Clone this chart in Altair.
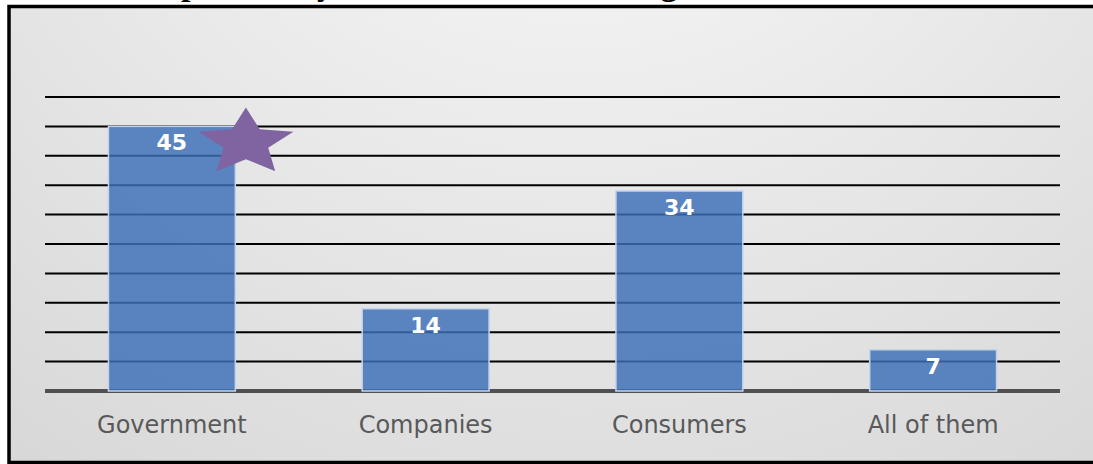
import math
import altair as alt
import pandas as pd

# ---- data ----
categories = ["Government", "Companies", "Consumers", "All of them"]
values = [45, 14, 34, 7]
grid_values = [5, 10, 15, 20, 25, 30, 35, 40, 45, 50]
baseline_values = [0]
star_category = ["Government"]
star_value = [42.8]
title_text = ["Responsibility for Environmental Degradation"]

bars_df = pd.DataFrame({"cat": categories, "val": values})
grid_df = pd.DataFrame({"g": grid_values})
base_df = pd.DataFrame({"g": baseline_values})
star_df = pd.DataFrame({"cat": star_category, "val": star_value})
title_df = pd.DataFrame({"t": title_text})
frame_df = pd.DataFrame({"k": [0]})

# ---- star shape (unit box, horizontally wide) ----
pts = []
for k in range(10):
    ang = math.radians(-90 + 36 * k)
    r = 1.0 if k % 2 == 0 else 0.47
    pts.append((r * math.cos(ang), r * math.sin(ang)))
mx = max(abs(p[0]) for p in pts)
sy = 0.7045
pts = [(p[0] / mx, p[1] / mx * sy) for p in pts]
ymid = (min(p[1] for p in pts) + max(p[1] for p in pts)) / 2
pts = [(p[0], p[1] - ymid) for p in pts]
star_path = "M" + " L".join(f"{x:.4f},{y:.4f}" for x, y in pts) + " Z"

W, H = 1015, 294
PL, PT, PR, PB = 45, 97, 33, 73

x_scale = alt.Scale(domain=categories, paddingInner=0.5, paddingOuter=0.25)
y_scale = alt.Scale(domain=[0, 50], nice=False, zero=True)

frame = alt.Chart(frame_df).mark_rect(
    fill={
        "gradient": "radial",
        "x1": 0.5, "y1": 0.0, "r1": 0.0,
        "x2": 0.5, "y2": 0.0, "r2": 1.05,
        "stops": [
            {"offset": 0.0, "color": "#fdfdfd"},
            {"offset": 1.0, "color": "#cfcfcf"},
        ],
    },
    stroke="#000000",
    strokeWidth=3.5,
).encode(
    x=alt.value(-36), x2=alt.value(1100),
    y=alt.value(-90.5), y2=alt.value(365.5),
)

title = alt.Chart(title_df).mark_text(
    align="left", baseline="alphabetic", font="Liberation Serif",
    fontWeight="bold", fontSize=34, color="#000000",
).encode(x=alt.value(83), y=alt.value(-102.5), text="t:N")

grid = alt.Chart(grid_df).mark_rule(color="#000000", strokeWidth=2).encode(
    y=alt.Y("g:Q", scale=y_scale, axis=None)
)

baseline = alt.Chart(base_df).mark_rule(color="#505050", strokeWidth=4).encode(
    y=alt.Y("g:Q", scale=y_scale, axis=None)
)

bars = alt.Chart(bars_df).mark_bar(
    fill="#3d70b8", fillOpacity=0.83, stroke="#c3d3ea", strokeWidth=1.5
).encode(
    x=alt.X("cat:N", scale=x_scale, sort=categories, title=None,
            axis=alt.Axis(labelAngle=0, ticks=False, domain=False,
                          labelFont="DejaVu Sans", labelFontSize=24,
                          labelColor="#595959", labelPadding=22, zindex=1)),
    y=alt.Y("val:Q", scale=y_scale, axis=None),
)

labels = alt.Chart(bars_df).mark_text(
    baseline="middle", align="center", dy=17, font="DejaVu Sans",
    fontWeight="bold", fontSize=22, color="#ffffff",
).encode(
    x=alt.X("cat:N", scale=x_scale, sort=categories),
    y=alt.Y("val:Q", scale=y_scale),
    text="val:Q",
)

star = alt.Chart(star_df).mark_point(
    shape=star_path, filled=True, fill="#8064a2", fillOpacity=1,
    strokeWidth=0, size=95 * 95, xOffset=74,
).encode(
    x=alt.X("cat:N", scale=x_scale, sort=categories),
    y=alt.Y("val:Q", scale=y_scale),
)

chart = alt.layer(frame, title, grid, baseline, bars, labels, star).properties(
    width=W, height=H,
    autosize=alt.AutoSizeParams(type="none"),
    padding={"left": PL, "top": PT, "right": PR, "bottom": PB},
    background="#ffffff",
).configure_view(stroke="transparent")

chart.save("out.html", embed_options={"renderer": "svg", "actions": False})
